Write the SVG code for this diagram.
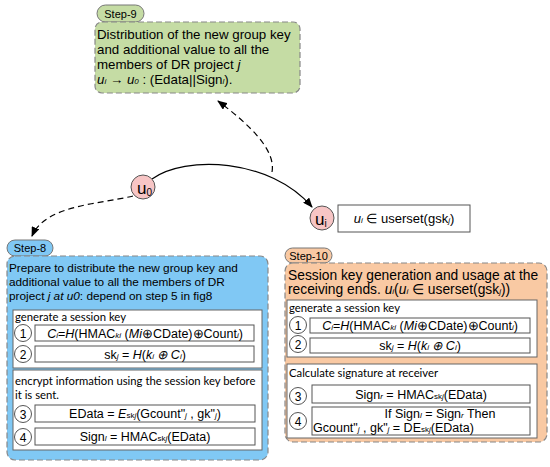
<svg xmlns="http://www.w3.org/2000/svg" width="550" height="467" viewBox="0 0 550 467">
<defs>
<marker id="ah" viewBox="0 0 10 8" refX="9" refY="4" markerWidth="10" markerHeight="8" markerUnits="userSpaceOnUse" orient="auto">
<path d="M0,0 L10,4 L0,8 z" fill="#000"/>
</marker>
</defs>
<style>
text{font-family:"Liberation Sans",Arial,sans-serif;fill:#000}
.cal{font-family:Lato,"Open Sans",sans-serif;font-size:11.3px}
.pill{stroke:#777;stroke-width:1}
.dbox{stroke:#888;stroke-width:1.2;stroke-dasharray:6,3}
.wbox{fill:#fff;stroke:#666;stroke-width:1}
.fbox{fill:#fff;stroke:#555;stroke-width:1}
.num{fill:#fff;stroke:#555;stroke-width:1}
.node{fill:#f7c5c5;stroke:#555;stroke-width:1}
.f{font-size:12.5px}
.st{font-size:11px}
.conn{fill:none;stroke:#000;stroke-width:1.2}
.dash{stroke-dasharray:6,4}
</style>

<g id="connectors">
<path class="conn" d="M152,179 C185,155 270,158 312,207" marker-end="url(#ah)"/>
<path class="conn dash" d="M272,172 C276,150 250,125 218,101" marker-end="url(#ah)"/>
<path class="conn dash" d="M133,196 C100,204 45,205 32,236" marker-end="url(#ah)"/>
</g>

<g id="step9">
<rect class="pill" x="97" y="5" width="47" height="17" rx="8.5" fill="#c5dca4"/>
<text class="st" x="120.5" y="17.5" text-anchor="middle">Step-9</text>
<rect class="dbox" x="95" y="22" width="205" height="71" rx="7" fill="#c5dca4"/>
<text font-size="13.3" x="97" y="39">Distribution of the new group key</text>
<text font-size="13.3" x="97" y="54">and additional value to all the</text>
<text font-size="13.3" x="97" y="69">members of DR project <tspan font-style="italic">j</tspan></text>
<text font-size="13.3" x="97" y="84"><tspan font-style="italic">u</tspan><tspan font-size="8" font-style="italic">i</tspan> → <tspan font-style="italic">u</tspan><tspan font-size="8" font-style="italic">0</tspan> : (Edata||Sign<tspan font-size="8" font-style="italic">l</tspan>).</text>
</g>

<g id="u0">
<circle class="node" cx="143" cy="187" r="12"/>
<text x="137" y="194" font-size="17">u<tspan font-size="10" dy="2">0</tspan></text>
</g>

<g id="ui">
<circle class="node" cx="322" cy="218" r="12"/>
<text x="315" y="225" font-size="17">u<tspan font-size="10" dy="2">i</tspan></text>
</g>

<g id="userset">
<rect class="fbox" x="338" y="205" width="132" height="27"/>
<text x="404" y="223" font-size="13" text-anchor="middle"><tspan font-style="italic">u</tspan><tspan font-size="8" font-style="italic">i</tspan> ∈ userset(gsk<tspan font-size="8" font-style="italic">j</tspan>)</text>
</g>

<g id="step8">
<rect class="pill" x="7" y="240" width="46" height="16" rx="8" fill="#80c8f4"/>
<text class="st" x="30" y="252" text-anchor="middle">Step-8</text>
<rect class="dbox" x="7" y="256" width="261" height="204" rx="8" fill="#80c8f4"/>
<text font-size="11.8" x="9" y="272">Prepare to distribute the new group key and</text>
<text font-size="11.8" x="9" y="286">additional value to all the members of DR</text>
<text font-size="11.8" x="9" y="300">project <tspan font-style="italic">j at u0</tspan>: depend on step 5 in fig8</text>
<rect class="wbox" x="13" y="310" width="249" height="58"/>
<text class="cal" x="15" y="321">generate a session key</text>
<circle class="num" cx="23" cy="333" r="8.5"/>
<text x="23" y="337.5" font-size="12" text-anchor="middle">1</text>
<rect class="fbox" x="35" y="325" width="219" height="16"/>
<text class="f" x="145" y="337.5" text-anchor="middle"><tspan font-style="italic">C</tspan><tspan font-size="8" font-style="italic">i</tspan>=<tspan font-style="italic">H</tspan>(HMAC<tspan font-size="8" font-style="italic">ki</tspan> (<tspan font-style="italic">Mi</tspan>⊕CDate)⊕Count<tspan font-size="8" font-style="italic">i</tspan>)</text>
<circle class="num" cx="23" cy="354" r="8.5"/>
<text x="23" y="358.5" font-size="12" text-anchor="middle">2</text>
<rect class="fbox" x="35" y="346" width="219" height="16"/>
<text class="f" x="145" y="358.5" text-anchor="middle">sk<tspan font-size="8" font-style="italic">j</tspan> = <tspan font-style="italic">H</tspan>(<tspan font-style="italic">k</tspan><tspan font-size="8" font-style="italic">i</tspan> <tspan font-style="italic">⊕ C</tspan><tspan font-size="8" font-style="italic">i</tspan>)</text>
<rect class="wbox" x="13" y="370" width="249" height="80"/>
<text class="cal" x="15" y="385">encrypt information using the session key before</text>
<text class="cal" x="15" y="399">it is sent.</text>
<circle class="num" cx="23" cy="414" r="8.5"/>
<text x="23" y="418.5" font-size="12" text-anchor="middle">3</text>
<rect class="fbox" x="35" y="405" width="220" height="17"/>
<text class="f" x="145" y="418" text-anchor="middle" font-size="13">EData = <tspan font-style="italic">E</tspan><tspan font-size="8">sk</tspan><tspan font-size="8" font-style="italic">j</tspan>(Gcount"<tspan font-size="8" font-style="italic">j</tspan> , gk"<tspan font-size="8" font-style="italic">j</tspan>)</text>
<circle class="num" cx="23" cy="437" r="8.5"/>
<text x="23" y="441.5" font-size="12" text-anchor="middle">4</text>
<rect class="fbox" x="35" y="428" width="220" height="17"/>
<text class="f" x="145" y="441" text-anchor="middle" font-size="13">Sign<tspan font-size="8" font-style="italic">l</tspan> = HMAC<tspan font-size="8">sk</tspan><tspan font-size="8" font-style="italic">j</tspan>(EData)</text>
</g>

<g id="step10">
<rect class="pill" x="285" y="248" width="47" height="15" rx="7.5" fill="#f9c9a3"/>
<text class="st" x="308.5" y="259.5" text-anchor="middle">Step-10</text>
<rect class="dbox" x="285" y="263" width="262" height="179" rx="8" fill="#f9c9a3"/>
<text font-size="13.8" x="288" y="280">Session key generation and usage at the</text>
<text font-size="13.8" x="288" y="294">receiving ends. <tspan font-style="italic">u</tspan><tspan font-size="8" font-style="italic">i</tspan>(<tspan font-style="italic">u</tspan><tspan font-size="8" font-style="italic">i</tspan> ∈ userset(gsk<tspan font-size="8" font-style="italic">j</tspan>))</text>
<rect class="wbox" x="287" y="300" width="250" height="57"/>
<text class="cal" x="289" y="312">generate a session key</text>
<circle class="num" cx="298" cy="325" r="8.5"/>
<text x="298" y="329.5" font-size="12" text-anchor="middle">1</text>
<rect class="fbox" x="310" y="318" width="220" height="15"/>
<text class="f" x="420" y="329.5" text-anchor="middle"><tspan font-style="italic">C</tspan><tspan font-size="8" font-style="italic">i</tspan>=<tspan font-style="italic">H</tspan>(HMAC<tspan font-size="8" font-style="italic">ki</tspan> (<tspan font-style="italic">Mi</tspan>⊕CDate)⊕Count<tspan font-size="8" font-style="italic">i</tspan>)</text>
<circle class="num" cx="298" cy="344" r="8.5"/>
<text x="298" y="348.5" font-size="12" text-anchor="middle">2</text>
<rect class="fbox" x="310" y="338" width="220" height="15"/>
<text class="f" x="420" y="349.5" text-anchor="middle">sk<tspan font-size="8" font-style="italic">j</tspan> = <tspan font-style="italic">H</tspan>(<tspan font-style="italic">k</tspan><tspan font-size="8" font-style="italic">i</tspan> <tspan font-style="italic">⊕ C</tspan><tspan font-size="8" font-style="italic">i</tspan>)</text>
<rect class="wbox" x="287" y="364" width="250" height="74"/>
<text class="cal" x="289" y="377">Calculate signature at receiver</text>
<circle class="num" cx="298" cy="396" r="8.5"/>
<text x="298" y="400.5" font-size="12" text-anchor="middle">3</text>
<rect class="fbox" x="312" y="385" width="218" height="18"/>
<text class="f" x="421" y="399" text-anchor="middle" font-size="13">Sign<tspan font-size="8" font-style="italic">r</tspan> = HMAC<tspan font-size="8">sk</tspan><tspan font-size="8" font-style="italic">j</tspan>(EData)</text>
<circle class="num" cx="298" cy="421" r="8.5"/>
<text x="298" y="425.5" font-size="12" text-anchor="middle">4</text>
<rect class="fbox" x="312" y="407" width="218" height="28"/>
<text class="f" x="440" y="418" text-anchor="middle" font-size="12">If Sign<tspan font-size="8" font-style="italic">l</tspan> = Sign<tspan font-size="8" font-style="italic">r</tspan> Then</text>
<text class="f" x="313" y="432" font-size="13">Gcount"<tspan font-size="8" font-style="italic">j</tspan> , gk"<tspan font-size="8" font-style="italic">j</tspan> = DE<tspan font-size="8">sk</tspan><tspan font-size="8" font-style="italic">j</tspan>(EData)</text>
</g>
</svg>
